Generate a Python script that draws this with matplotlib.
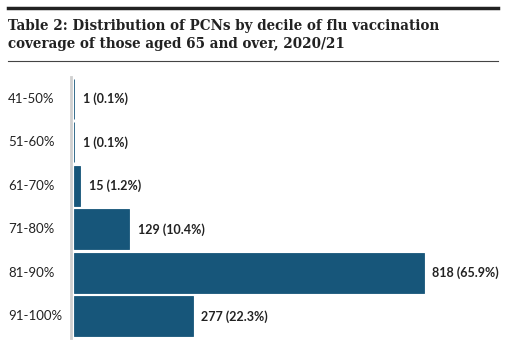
import matplotlib
matplotlib.use("Agg")
import matplotlib.pyplot as plt
from matplotlib.transforms import blended_transform_factory
from matplotlib.lines import Line2D

# data
categories = ["41-50%", "51-60%", "61-70%", "71-80%", "81-90%", "91-100%"]
counts = [1, 1, 15, 129, 818, 277]
shares = [0.1, 0.1, 1.2, 10.4, 65.9, 22.3]

title = "Table 2: Distribution of PCNs by decile of flu vaccination\ncoverage of those aged 65 and over, 2020/21"

W, H = 505, 346
fig = plt.figure(figsize=(W / 100, H / 100), dpi=100)
fig.patch.set_facecolor("white")

# axes placed in pixel coordinates
left, right, top, bottom = 74, 498, 77, 338
ax = fig.add_axes([left / W, 1 - bottom / H, (right - left) / W, (bottom - top) / H])

ypos = list(range(len(categories)))
ax.barh(ypos, counts, height=0.92, color="#17567a", edgecolor="#17567a", linewidth=0.6)
ax.set_ylim(len(categories) - 0.5, -0.5)
ax.set_xlim(0, 818 * (right - left) / 350)

for s in ["top", "right", "bottom"]:
    ax.spines[s].set_visible(False)
ax.spines["left"].set_color("#d0d0d0")
ax.spines["left"].set_linewidth(2)
ax.spines["left"].set_position(("outward", 2.5))
ax.set_xticks([])
ax.set_yticks([])

# category labels on the left
tr = blended_transform_factory(fig.transFigure, ax.transData)
for y, c in zip(ypos, categories):
    ax.text(8 / W, y, c, transform=tr, ha="left", va="center",
            fontsize=9.5, family="Lato", color="#222222")

# value labels
for y, n, p in zip(ypos, counts, shares):
    ax.annotate(f"{n} ({p}%)", xy=(n, y), xytext=(6, 0), textcoords="offset points",
                ha="left", va="center", fontsize=9, family="Lato",
                fontweight="bold", color="#222222")

# title and rules
fig.add_artist(Line2D([8 / W, 498 / W], [1 - 7.5 / H, 1 - 7.5 / H], color="#222222", lw=2.5))
fig.text(8 / W, 1 - 19 / H, title, ha="left", va="top", fontsize=10.8,
         family="DejaVu Serif", fontstretch="condensed", fontweight="bold",
         color="#222222", linespacing=1.4)
fig.add_artist(Line2D([8 / W, 498 / W], [1 - 61 / H, 1 - 61 / H], color="#444444", lw=0.8))

fig.savefig("out.png", dpi=100)
